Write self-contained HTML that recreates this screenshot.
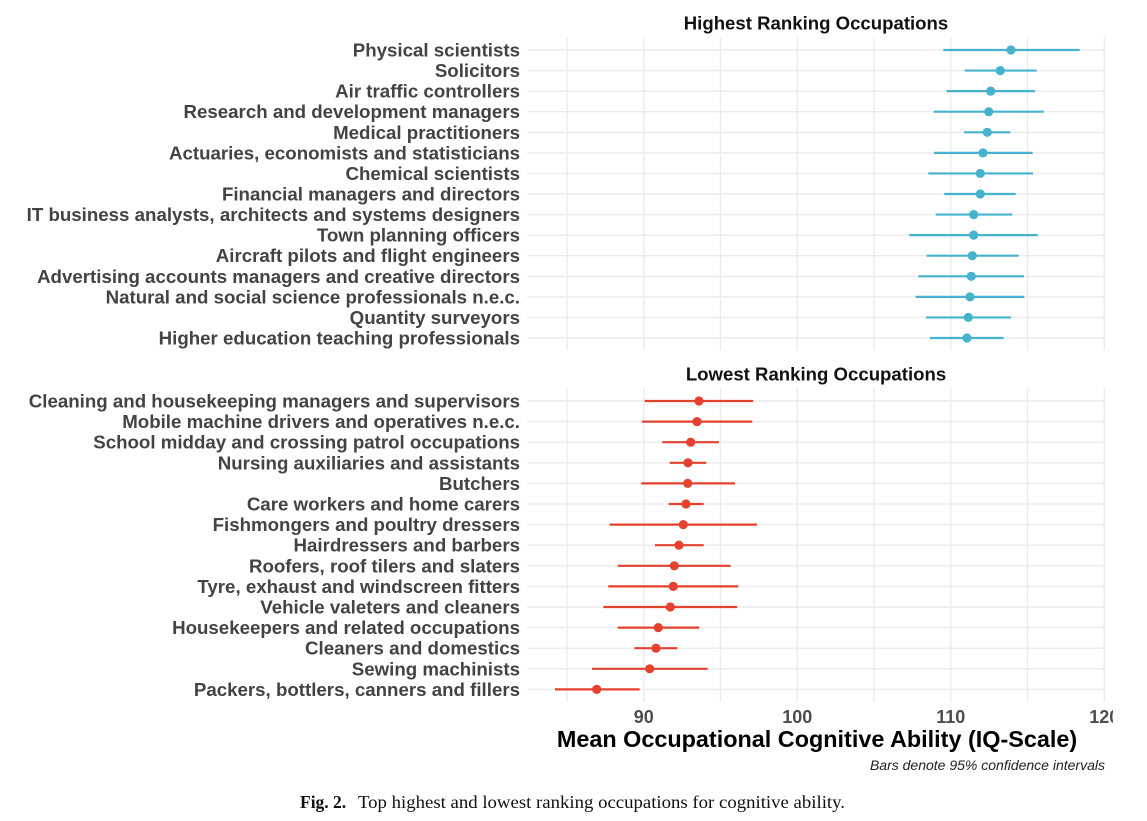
<!DOCTYPE html>
<html>
<head>
<meta charset="utf-8">
<style>
  html,body{margin:0;padding:0;background:#fff;}
  svg{display:block;}
  .lab{font-family:"Liberation Sans",Arial,sans-serif;font-weight:bold;font-size:18.7px;fill:#434343;}
  .tick{font-family:"Liberation Sans",Arial,sans-serif;font-weight:bold;font-size:18px;fill:#4d4d4d;}
  .ttl{font-family:"Liberation Sans",Arial,sans-serif;font-weight:bold;font-size:18.6px;fill:#111;}
  .axt{font-family:"Liberation Sans",Arial,sans-serif;font-weight:bold;font-size:23.4px;fill:#000;}
  .note{font-family:"Liberation Sans",Arial,sans-serif;font-style:italic;font-size:14px;fill:#222;}
  .cap{font-family:"Liberation Serif","Times New Roman",serif;font-size:17.5px;fill:#111;}
  .g{stroke:#ebebeb;stroke-width:1.4;}
  .t line{stroke:#45b3cd;stroke-width:2.2;}
  .t circle{fill:#45b3cd;}
  .r line{stroke:#e5412f;stroke-width:2.2;}
  .r circle{fill:#e5412f;}
</style>
</head>
<body>
<svg width="1147" height="821" viewBox="0 0 1147 821" xmlns="http://www.w3.org/2000/svg">
  <defs>
    <clipPath id="clipR"><rect x="0" y="0" width="1113" height="821"/></clipPath>
  </defs>
  <rect width="1147" height="821" fill="#fff"/>

  <!-- Top panel grid -->
  <g class="g">
    <line x1="567" y1="37.5" x2="567" y2="350.5"/>
    <line x1="643.8" y1="37.5" x2="643.8" y2="350.5"/>
    <line x1="720.5" y1="37.5" x2="720.5" y2="350.5"/>
    <line x1="797.3" y1="37.5" x2="797.3" y2="350.5"/>
    <line x1="874" y1="37.5" x2="874" y2="350.5"/>
    <line x1="950.8" y1="37.5" x2="950.8" y2="350.5"/>
    <line x1="1027.5" y1="37.5" x2="1027.5" y2="350.5"/>
    <line x1="1104.3" y1="37.5" x2="1104.3" y2="350.5"/>
    <line x1="527" y1="50" x2="1105" y2="50"/>
    <line x1="527" y1="70.57" x2="1105" y2="70.57"/>
    <line x1="527" y1="91.14" x2="1105" y2="91.14"/>
    <line x1="527" y1="111.71" x2="1105" y2="111.71"/>
    <line x1="527" y1="132.29" x2="1105" y2="132.29"/>
    <line x1="527" y1="152.86" x2="1105" y2="152.86"/>
    <line x1="527" y1="173.43" x2="1105" y2="173.43"/>
    <line x1="527" y1="194" x2="1105" y2="194"/>
    <line x1="527" y1="214.57" x2="1105" y2="214.57"/>
    <line x1="527" y1="235.14" x2="1105" y2="235.14"/>
    <line x1="527" y1="255.71" x2="1105" y2="255.71"/>
    <line x1="527" y1="276.29" x2="1105" y2="276.29"/>
    <line x1="527" y1="296.86" x2="1105" y2="296.86"/>
    <line x1="527" y1="317.43" x2="1105" y2="317.43"/>
    <line x1="527" y1="338" x2="1105" y2="338"/>
  </g>

  <!-- Bottom panel grid -->
  <g class="g">
    <line x1="567" y1="388.5" x2="567" y2="702"/>
    <line x1="643.8" y1="388.5" x2="643.8" y2="702"/>
    <line x1="720.5" y1="388.5" x2="720.5" y2="702"/>
    <line x1="797.3" y1="388.5" x2="797.3" y2="702"/>
    <line x1="874" y1="388.5" x2="874" y2="702"/>
    <line x1="950.8" y1="388.5" x2="950.8" y2="702"/>
    <line x1="1027.5" y1="388.5" x2="1027.5" y2="702"/>
    <line x1="1104.3" y1="388.5" x2="1104.3" y2="702"/>
    <line x1="527" y1="401" x2="1105" y2="401"/>
    <line x1="527" y1="421.6" x2="1105" y2="421.6"/>
    <line x1="527" y1="442.2" x2="1105" y2="442.2"/>
    <line x1="527" y1="462.8" x2="1105" y2="462.8"/>
    <line x1="527" y1="483.4" x2="1105" y2="483.4"/>
    <line x1="527" y1="504" x2="1105" y2="504"/>
    <line x1="527" y1="524.6" x2="1105" y2="524.6"/>
    <line x1="527" y1="545.2" x2="1105" y2="545.2"/>
    <line x1="527" y1="565.8" x2="1105" y2="565.8"/>
    <line x1="527" y1="586.4" x2="1105" y2="586.4"/>
    <line x1="527" y1="607" x2="1105" y2="607"/>
    <line x1="527" y1="627.6" x2="1105" y2="627.6"/>
    <line x1="527" y1="648.2" x2="1105" y2="648.2"/>
    <line x1="527" y1="668.8" x2="1105" y2="668.8"/>
    <line x1="527" y1="689.4" x2="1105" y2="689.4"/>
  </g>

  <!-- Titles -->
  <text class="ttl" x="816" y="29.5" text-anchor="middle">Highest Ranking Occupations</text>
  <text class="ttl" x="816" y="380.5" text-anchor="middle">Lowest Ranking Occupations</text>

  <!-- Top series -->
  <g class="t">
    <line x1="943.3" y1="50" x2="1079.7" y2="50"/><circle cx="1011" cy="50" r="4.6"/>
    <line x1="964.7" y1="70.57" x2="1036.7" y2="70.57"/><circle cx="1000.3" cy="70.57" r="4.6"/>
    <line x1="946.7" y1="91.14" x2="1035" y2="91.14"/><circle cx="990.7" cy="91.14" r="4.6"/>
    <line x1="933.7" y1="111.71" x2="1043.7" y2="111.71"/><circle cx="988.7" cy="111.71" r="4.6"/>
    <line x1="964" y1="132.29" x2="1010.3" y2="132.29"/><circle cx="987.3" cy="132.29" r="4.6"/>
    <line x1="934" y1="152.86" x2="1032.7" y2="152.86"/><circle cx="983" cy="152.86" r="4.6"/>
    <line x1="928.3" y1="173.43" x2="1033" y2="173.43"/><circle cx="980.3" cy="173.43" r="4.6"/>
    <line x1="944.3" y1="194" x2="1015.7" y2="194"/><circle cx="980.3" cy="194" r="4.6"/>
    <line x1="935.7" y1="214.57" x2="1012.3" y2="214.57"/><circle cx="973.7" cy="214.57" r="4.6"/>
    <line x1="909.3" y1="235.14" x2="1037.7" y2="235.14"/><circle cx="973.7" cy="235.14" r="4.6"/>
    <line x1="926.7" y1="255.71" x2="1018.7" y2="255.71"/><circle cx="972.3" cy="255.71" r="4.6"/>
    <line x1="918.3" y1="276.29" x2="1024" y2="276.29"/><circle cx="971.3" cy="276.29" r="4.6"/>
    <line x1="915.7" y1="296.86" x2="1024.3" y2="296.86"/><circle cx="970" cy="296.86" r="4.6"/>
    <line x1="926" y1="317.43" x2="1011" y2="317.43"/><circle cx="968.3" cy="317.43" r="4.6"/>
    <line x1="930" y1="338" x2="1003.7" y2="338"/><circle cx="967" cy="338" r="4.6"/>
  </g>

  <!-- Bottom series -->
  <g class="r">
    <line x1="644.7" y1="401" x2="753.3" y2="401"/><circle cx="699" cy="401" r="4.6"/>
    <line x1="642" y1="421.6" x2="752.3" y2="421.6"/><circle cx="697" cy="421.6" r="4.6"/>
    <line x1="662.3" y1="442.2" x2="719" y2="442.2"/><circle cx="690.7" cy="442.2" r="4.6"/>
    <line x1="669.7" y1="462.8" x2="706.3" y2="462.8"/><circle cx="688" cy="462.8" r="4.6"/>
    <line x1="641.3" y1="483.4" x2="735" y2="483.4"/><circle cx="687.7" cy="483.4" r="4.6"/>
    <line x1="668.7" y1="504" x2="703.7" y2="504"/><circle cx="686" cy="504" r="4.6"/>
    <line x1="609.7" y1="524.6" x2="757" y2="524.6"/><circle cx="683.3" cy="524.6" r="4.6"/>
    <line x1="655" y1="545.2" x2="703.7" y2="545.2"/><circle cx="679" cy="545.2" r="4.6"/>
    <line x1="617.7" y1="565.8" x2="730.7" y2="565.8"/><circle cx="674.3" cy="565.8" r="4.6"/>
    <line x1="608.3" y1="586.4" x2="738.3" y2="586.4"/><circle cx="673.3" cy="586.4" r="4.6"/>
    <line x1="603.3" y1="607" x2="737.3" y2="607"/><circle cx="670.3" cy="607" r="4.6"/>
    <line x1="617.7" y1="627.6" x2="699.3" y2="627.6"/><circle cx="658.3" cy="627.6" r="4.6"/>
    <line x1="634.3" y1="648.2" x2="677.3" y2="648.2"/><circle cx="656" cy="648.2" r="4.6"/>
    <line x1="592" y1="668.8" x2="707.7" y2="668.8"/><circle cx="649.7" cy="668.8" r="4.6"/>
    <line x1="555" y1="689.4" x2="639.7" y2="689.4"/><circle cx="596.7" cy="689.4" r="4.6"/>
  </g>

  <!-- Top labels -->
  <g class="lab" text-anchor="end">
    <text x="520" y="56.5">Physical scientists</text>
    <text x="520" y="77.1">Solicitors</text>
    <text x="520" y="97.6">Air traffic controllers</text>
    <text x="520" y="118.2">Research and development managers</text>
    <text x="520" y="138.8">Medical practitioners</text>
    <text x="520" y="159.4">Actuaries, economists and statisticians</text>
    <text x="520" y="179.9">Chemical scientists</text>
    <text x="520" y="200.5">Financial managers and directors</text>
    <text x="520" y="221.1">IT business analysts, architects and systems designers</text>
    <text x="520" y="241.6">Town planning officers</text>
    <text x="520" y="262.2">Aircraft pilots and flight engineers</text>
    <text x="520" y="282.8">Advertising accounts managers and creative directors</text>
    <text x="520" y="303.4">Natural and social science professionals n.e.c.</text>
    <text x="520" y="323.9">Quantity surveyors</text>
    <text x="520" y="344.5">Higher education teaching professionals</text>
  </g>

  <!-- Bottom labels -->
  <g class="lab" text-anchor="end">
    <text x="520" y="407.5">Cleaning and housekeeping managers and supervisors</text>
    <text x="520" y="428.1">Mobile machine drivers and operatives n.e.c.</text>
    <text x="520" y="448.7">School midday and crossing patrol occupations</text>
    <text x="520" y="469.3">Nursing auxiliaries and assistants</text>
    <text x="520" y="489.9">Butchers</text>
    <text x="520" y="510.5">Care workers and home carers</text>
    <text x="520" y="531.1">Fishmongers and poultry dressers</text>
    <text x="520" y="551.7">Hairdressers and barbers</text>
    <text x="520" y="572.3">Roofers, roof tilers and slaters</text>
    <text x="520" y="592.9">Tyre, exhaust and windscreen fitters</text>
    <text x="520" y="613.5">Vehicle valeters and cleaners</text>
    <text x="520" y="634.1">Housekeepers and related occupations</text>
    <text x="520" y="654.7">Cleaners and domestics</text>
    <text x="520" y="675.3">Sewing machinists</text>
    <text x="520" y="695.9">Packers, bottlers, canners and fillers</text>
  </g>

  <!-- X tick labels -->
  <g class="tick" text-anchor="middle" clip-path="url(#clipR)">
    <text x="643.8" y="723">90</text>
    <text x="797.3" y="723">100</text>
    <text x="950.8" y="723">110</text>
    <text x="1104.3" y="723">120</text>
  </g>

  <!-- Axis title -->
  <text class="axt" x="817" y="747" text-anchor="middle">Mean Occupational Cognitive Ability (IQ-Scale)</text>

  <!-- Note -->
  <text class="note" x="1105" y="770" text-anchor="end">Bars denote 95% confidence intervals</text>

  <!-- Figure caption -->
  <text class="cap" x="300" y="808"><tspan font-weight="bold">Fig. 2.</tspan></text>
  <text class="cap" x="358" y="808" textLength="487" lengthAdjust="spacingAndGlyphs">Top highest and lowest ranking occupations for cognitive ability.</text>
</svg>
</body>
</html>
